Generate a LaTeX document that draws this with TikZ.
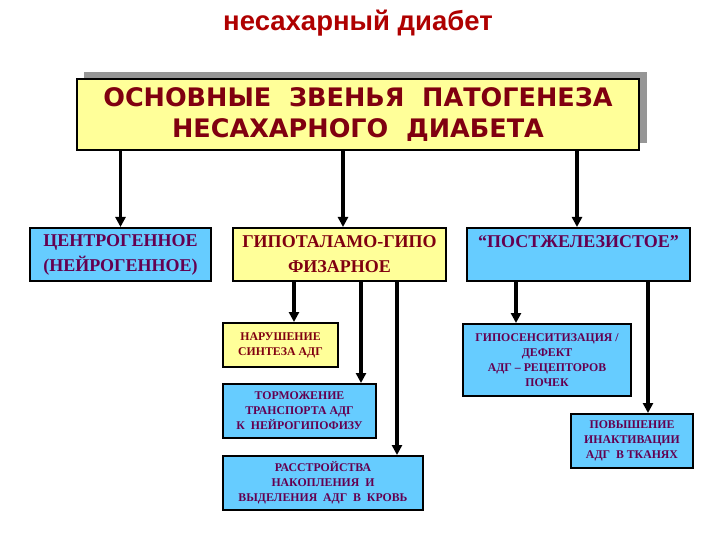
\documentclass[tikz,border=0pt]{standalone}
\usepackage{fontspec}
\setmainfont{Liberation Serif}
\newfontfamily\sansb{Liberation Sans}
\newfontfamily\verd{DejaVu Sans}
\usetikzlibrary{arrows.meta}
\definecolor{bluefill}{RGB}{102,204,255}
\definecolor{yelfill}{RGB}{255,255,153}
\definecolor{dred}{RGB}{128,0,16}
\definecolor{tred}{RGB}{175,0,0}
\definecolor{dpurp}{RGB}{100,0,80}
\definecolor{shadowgray}{RGB}{150,150,150}
\tikzset{
  box/.style={draw=black, line width=2pt, inner sep=0pt, align=center},
  bluebox/.style={box, fill=bluefill, text=dpurp},
  yelbox/.style={box, fill=yelfill, text=dred},
  bigtxt/.style={font=\fontsize{18}{25}\selectfont\bfseries},
  smalltxt/.style={font=\fontsize{11.8}{15}\selectfont\bfseries},
  arr/.style={line width=3.2pt, -{Triangle[width=10pt,length=10pt]}}
}
\begin{document}
\begin{tikzpicture}[x=1pt,y=-1pt]
\useasboundingbox (0,0) rectangle (720,540);
% title
\node[text=tred, font=\sansb\fontsize{27.5}{30}\selectfont\bfseries] (title) at (358,23) {несахарный диабет};
% shadow and main box
\fill[shadowgray] (84,72) rectangle (647,143);
\node[yelbox, minimum width=562pt, minimum height=71pt, font=\verd\fontsize{25.5}{31}\selectfont\bfseries] (main) at (358,114.5) {ОСНОВНЫЕ\ \ ЗВЕНЬЯ\ \ ПАТОГЕНЕЗА\ \\ НЕСАХАРНОГО\ \ ДИАБЕТА};
% row boxes
\node[bluebox, bigtxt, minimum width=181pt, minimum height=53pt] (cen) at (120.5,254.5) {ЦЕНТРОГЕННОЕ\\(НЕЙРОГЕННОЕ)};
\node[yelbox, bigtxt, minimum width=213pt, minimum height=53pt] (hyp) at (339.5,254.5) {ГИПОТАЛАМО-ГИПО\\ФИЗАРНОЕ};
\node[bluebox, bigtxt, minimum width=223pt, minimum height=53pt] (post) at (578.5,254.5) {“ПОСТЖЕЛЕЗИСТОЕ”\\ \mbox{}};
% sub boxes
\node[yelbox, smalltxt, minimum width=115pt, minimum height=44pt] (nar) at (280.5,345) {НАРУШЕНИЕ\\СИНТЕЗА АДГ};
\node[bluebox, smalltxt, minimum width=153pt, minimum height=54pt] (tor) at (299.5,411) {ТОРМОЖЕНИЕ\\ТРАНСПОРТА АДГ\\ К\ \ НЕЙРОГИПОФИЗУ};
\node[bluebox, smalltxt, minimum width=200pt, minimum height=54pt] (ras) at (323,483) {РАССТРОЙСТВА\\НАКОПЛЕНИЯ\ \ И\\ВЫДЕЛЕНИЯ\ \ АДГ\ \ В\ \ КРОВЬ};
\node[bluebox, smalltxt, minimum width=168pt, minimum height=72pt] (gip) at (547,360) {ГИПОСЕНСИТИЗАЦИЯ /\\ДЕФЕКТ\\АДГ – РЕЦЕПТОРОВ\\ПОЧЕК};
\node[bluebox, smalltxt, minimum width=122pt, minimum height=54pt] (pov) at (632,441) {ПОВЫШЕНИЕ\\ИНАКТИВАЦИИ\\АДГ\ \ В ТКАНЯХ};
% arrows from main
\draw[arr] (main.south -| cen.north) -- (cen.north);
\draw[arr] ([xshift=3.5pt]main.south -| hyp.north) -- ([xshift=3.5pt]hyp.north);
\draw[arr] ([xshift=-1.5pt]main.south -| post.north) -- ([xshift=-1.5pt]post.north);
% arrows from hyp
\coordinate (h1) at (294,0);
\coordinate (h2) at (361,0);
\coordinate (h3) at (397,0);
\draw[arr] (hyp.south -| h1) -- (nar.north -| h1);
\draw[arr] (hyp.south -| h2) -- (tor.north -| h2);
\draw[arr] (hyp.south -| h3) -- (ras.north -| h3);
% arrows from post
\coordinate (p1) at (516,0);
\coordinate (p2) at (648,0);
\draw[arr] (post.south -| p1) -- (gip.north -| p1);
\draw[arr] (post.south -| p2) -- (pov.north -| p2);
\end{tikzpicture}
\end{document}
